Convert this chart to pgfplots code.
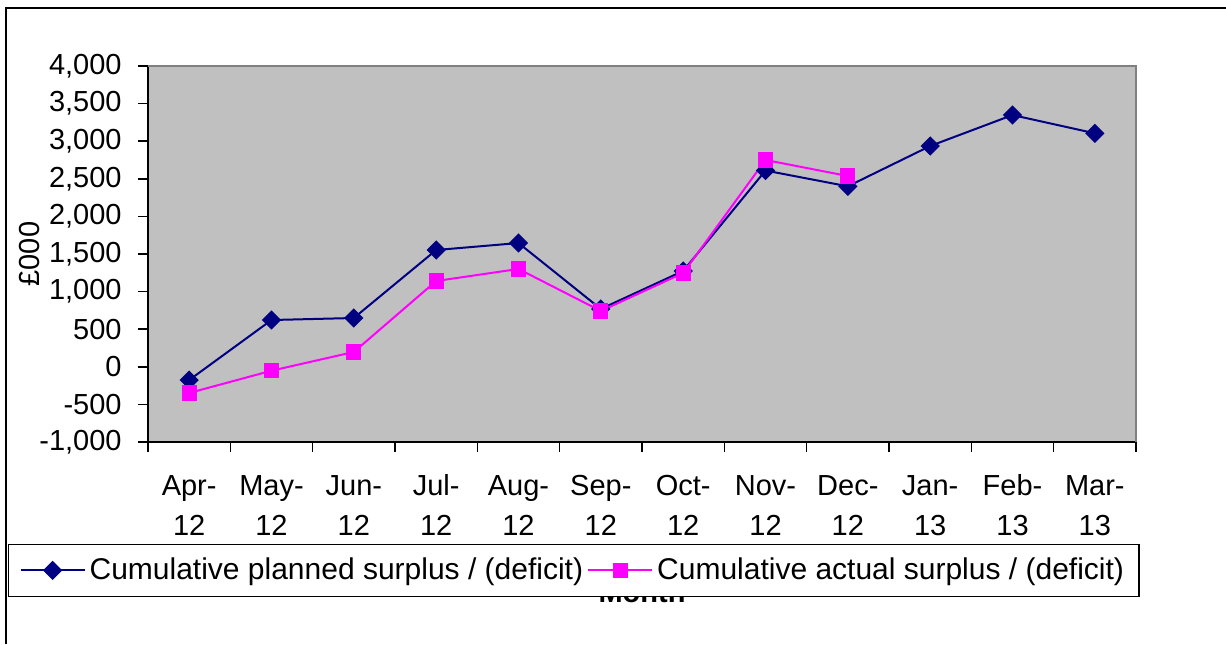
\documentclass[border=0pt]{standalone}
\usepackage{fontspec}
\setmainfont{Liberation Sans}
\usepackage{pgfplots}
\pgfplotsset{compat=1.18}
\definecolor{plotgrey}{RGB}{192,192,192}
\definecolor{navyc}{RGB}{0,0,128}
\definecolor{magc}{RGB}{255,0,255}
\definecolor{framegrey}{RGB}{128,128,128}
\begin{document}
\begin{tikzpicture}[font=\fontsize{14.5}{17}\selectfont]
\path[use as bounding box] (0pt,0pt) rectangle (613pt,322pt);
\draw[line width=1pt] (3pt,0pt) -- (3pt,318pt) -- (613pt,318pt);
\begin{axis}[
  scale only axis, width=494pt, height=188pt,
  at={(74pt,101pt)}, anchor=south west,
  xmin=-0.5, xmax=11.5, ymin=-1000, ymax=4000,
  ytick={-1000,-500,...,4000},
  xtick={0,...,11},
  xticklabels={{\strut Apr-\\12},{\strut May-\\12},{\strut Jun-\\12},{\strut Jul-\\12},{\strut Aug-\\12},{\strut Sep-\\12},{\strut Oct-\\12},{\strut Nov-\\12},{\strut Dec-\\12},{\strut Jan-\\13},{\strut Feb-\\13},{\strut Mar-\\13}},
  minor xtick={-0.5,0.5,...,11.5},
  major x tick style={draw=none},
  tick align=outside,
  major tick length=5pt, minor tick length=5pt,
  tick style={black, line width=0.75pt},
  axis lines*=left,
  axis line style={-, black, line width=0.9pt},
  axis background/.style={fill=plotgrey},
  after end axis/.code={\draw[framegrey, line width=1pt] (rel axis cs:0,1) -- (rel axis cs:1,1) -- (rel axis cs:1,0);},
  /pgf/number format/.cd, 1000 sep={,}, assume math mode=true,
  /pgfplots/.cd,
  yticklabel style={font=\fontsize{14.5}{17}\selectfont, anchor=east, inner sep=0pt, xshift=-8pt},
  xticklabel style={font=\fontsize{14.5}{20}\selectfont, align=center, anchor=north, inner sep=0pt, yshift=-7.4pt},
  ylabel={£000},
  ylabel style={at={(axis description cs:-0.1204,0.5)}, anchor=center, font=\fontsize{14.5}{17}\selectfont},
  xlabel={Month},
  xlabel style={at={(axis description cs:0.5,-0.428)}, anchor=base, font=\fontsize{14.5}{17}\selectfont\bfseries},
  legend columns=2,
  legend style={at={(axis description cs:-0.1417,-0.4122)}, anchor=south west, draw=black, line width=0.6pt, fill=white,
    font=\fontsize{15}{18}\selectfont, inner xsep=5.5pt, inner ysep=4.8pt,
    /tikz/every even column/.append style={column sep=0pt}},
  legend cell align=left,
  legend image code/.code={\draw[mark repeat=2,mark phase=2,#1] plot coordinates {(0pt,0pt) (16pt,0pt) (32pt,0pt)};},
]
\addplot[navyc, line width=1pt, mark=square*, mark size=2.9pt, mark options={rotate=45, solid, fill=navyc, draw=navyc}]
  coordinates {(0,-176) (1,622) (2,649) (3,1553) (4,1646) (5,769) (6,1274) (7,2610) (8,2400) (9,2936) (10,3348) (11,3105)};
\addlegendentry{Cumulative planned surplus / (deficit)}
\addplot[magc, line width=1pt, mark=square*, mark size=3.3pt, mark options={solid, fill=magc, draw=magc}]
  coordinates {(0,-348) (1,-52) (2,197) (3,1141) (4,1301) (5,742) (6,1247) (7,2750) (8,2537)};
\addlegendentry{Cumulative actual surplus / (deficit)}
\end{axis}
\end{tikzpicture}
\end{document}
